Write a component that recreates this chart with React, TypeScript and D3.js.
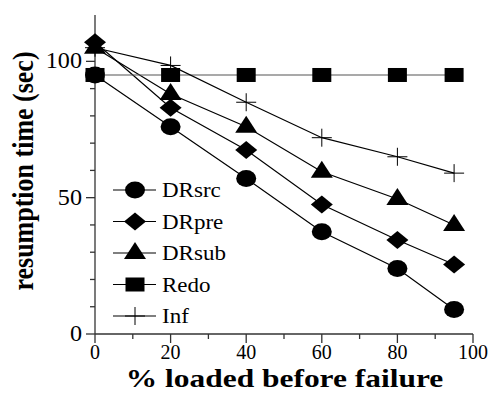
import { scaleLinear, line } from "d3";

const xValues = [0, 20, 40, 60, 80, 95];
const drsrc = [95, 76, 57, 37.5, 24, 9];
const drpre = [107, 83, 67.5, 47.5, 34.5, 25.5];
const drsub = [105, 88, 76, 59.5, 49.5, 40];
const redo = [95, 95, 95, 95, 95, 95];
const inf = [105, 98.5, 85, 72, 65, 59];
const xTicks = [0, 20, 40, 60, 80, 100];
const yTicks = [0, 50, 100];

type Shape = "circle" | "diamond" | "triangle" | "square" | "plus";

const seriesList: { name: string; values: number[]; shape: Shape }[] = [
  { name: "DRsrc", values: drsrc, shape: "circle" },
  { name: "DRpre", values: drpre, shape: "diamond" },
  { name: "DRsub", values: drsub, shape: "triangle" },
  { name: "Redo", values: redo, shape: "square" },
  { name: "Inf", values: inf, shape: "plus" },
];

function Marker({ shape, x, y }: { shape: Shape; x: number; y: number }) {
  switch (shape) {
    case "circle":
      return <ellipse cx={x} cy={y} rx={10} ry={8.5} fill="#000" />;
    case "diamond":
      return <path d={`M${x - 11},${y}L${x},${y - 9}L${x + 11},${y}L${x},${y + 9}Z`} fill="#000" />;
    case "triangle":
      return <path d={`M${x - 11},${y + 6}L${x},${y - 11}L${x + 11},${y + 6}Z`} fill="#000" />;
    case "square":
      return <rect x={x - 9.5} y={y - 7} width={19} height={14} fill="#000" />;
    case "plus":
      return (
        <g stroke="#000" strokeWidth={1}>
          <line x1={x - 10} x2={x + 10} y1={y} y2={y} />
          <line x1={x} x2={x} y1={y - 9} y2={y + 9} />
        </g>
      );
  }
}

export default function App() {
  const width = 493;
  const height = 394;
  const x = scaleLinear().domain([0, 100]).range([95, 473]);
  const y = scaleLinear().domain([0, 117]).range([334, 15]);
  const font = "'Liberation Serif', 'Times New Roman', serif";
  const stretch = 1.15;
  const gen = line<number>()
    .x((_, i) => x(xValues[i]))
    .y((d) => y(d));

  return (
    <svg
      width={width}
      height={height}
      style={{ position: "absolute", left: 0, top: 0, background: "#fff" }}
      fontFamily={font}
    >
      {/* axes */}
      <g stroke="#333" strokeWidth={1.3}>
        <line x1={x(0)} x2={x(100)} y1={y(0)} y2={y(0)} />
        <line x1={x(0)} x2={x(0)} y1={y(0)} y2={y(117)} />
        {xTicks.map((t) => (
          <line key={"xt" + t} x1={x(t)} x2={x(t)} y1={y(0)} y2={y(0) + 9} />
        ))}
        {xTicks.slice(0, -1).map((t) => (
          <line key={"xm" + t} x1={x(t + 10)} x2={x(t + 10)} y1={y(0)} y2={y(0) + 5} />
        ))}
        {yTicks.map((t) => (
          <line key={"yt" + t} x1={x(0) - 9} x2={x(0)} y1={y(t)} y2={y(t)} />
        ))}
        {[10, 20, 30, 40, 60, 70, 80, 90].map((t) => (
          <line key={"ym" + t} x1={x(0) - 5} x2={x(0)} y1={y(t)} y2={y(t)} />
        ))}
      </g>
      {xTicks.map((t) => (
        <text key={"xl" + t} x={x(t)} y={y(0) + 25} textAnchor="middle" fontSize={20}>
          {t}
        </text>
      ))}
      {yTicks.map((t) => (
        <text
          key={"yl" + t}
          transform={`translate(${x(0) - 13},${y(t) + 7}) scale(1.05,1)`}
          textAnchor="end"
          fontSize={23}
        >
          {t}
        </text>
      ))}
      <text
        transform={`translate(284.5,387) scale(1.21,1)`}
        textAnchor="middle"
        fontSize={26}
        fontWeight="bold"
      >
        % loaded before failure
      </text>
      <text
        transform={`translate(33,171) scale(${stretch},1) rotate(-90)`}
        textAnchor="middle"
        fontSize={26}
        fontWeight="bold"
      >
        resumption time (sec)
      </text>

      {/* series */}
      {seriesList.map((s) => (
        <g key={s.name}>
          <path d={gen(s.values) ?? ""} fill="none" stroke={s.shape === "square" ? "#555" : "#000"} strokeWidth={1.2} />
          {s.values.map((v, i) => (
            <Marker key={i} shape={s.shape} x={x(xValues[i])} y={y(v)} />
          ))}
        </g>
      ))}

      {/* legend */}
      {seriesList.map((s, i) => {
        const cy = 190 + i * 31.5;
        return (
          <g key={"lg" + s.name}>
            <line x1={113} x2={156} y1={cy} y2={cy} stroke="#000" strokeWidth={1.2} />
            <Marker shape={s.shape} x={135} y={cy} />
            <text transform={`translate(162,${cy + 7}) scale(${stretch},1)`} fontSize={20}>
              {s.name}
            </text>
          </g>
        );
      })}
    </svg>
  );
}
